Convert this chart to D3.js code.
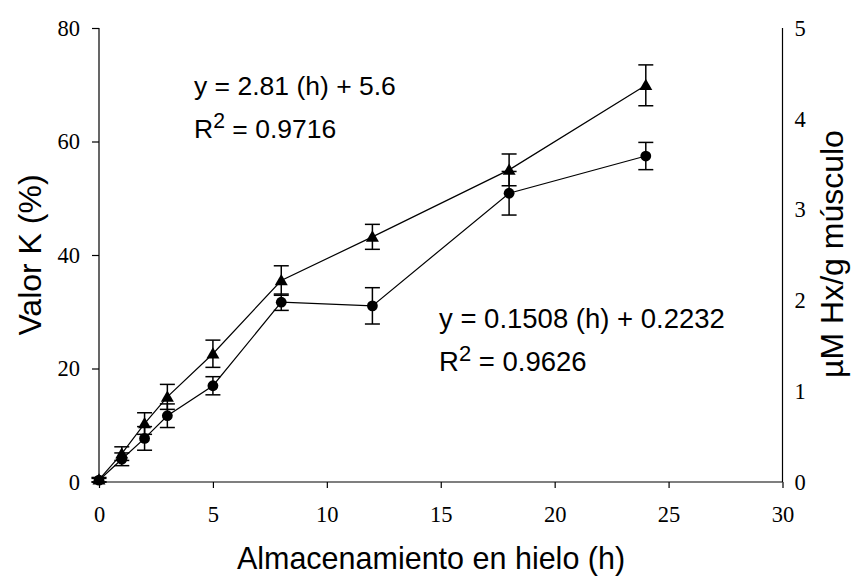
<!DOCTYPE html>
<html><head><meta charset="utf-8">
<script src="https://cdn.jsdelivr.net/npm/d3@7"></script>
<style>body{margin:0;background:#fff}</style>
</head><body>
<svg id="c" width="856" height="581"></svg>
<script>
const hours = [0, 1, 2, 3, 5, 8, 12, 18, 24];
const valorK = [0.4, 5.0, 10.3, 15.0, 22.6, 35.5, 43.2, 55.0, 69.9];
const valorKErr = [0.4, 1.2, 1.9, 2.2, 2.4, 2.6, 2.2, 2.8, 3.6];
const hx = [0.02, 0.25, 0.48, 0.73, 1.06, 1.98, 1.94, 3.18, 3.59];
const hxErr = [0.02, 0.07, 0.13, 0.13, 0.10, 0.09, 0.20, 0.24, 0.15];
const xTicks = [0, 5, 10, 15, 20, 25, 30];
const yLeftTicks = [0, 20, 40, 60, 80];
const yRightTicks = [0, 1, 2, 3, 4, 5];
const eq1 = ["y = 2.81 (h) + 5.6", "0.9716"];
const eq2 = ["y = 0.1508 (h) + 0.2232", "0.9626"];

const svg = d3.select("#c");
const L = 99, R = 782.5, T = 28, B = 482;
const x = d3.scaleLinear().domain([0, 30]).range([L, R]);
const yL = d3.scaleLinear().domain([0, 80]).range([B, T]);
const yR = d3.scaleLinear().domain([0, 5]).range([B, T]);
const serif = "'Liberation Serif','Times New Roman',serif";
const sans = "'Liberation Sans',Arial,sans-serif";

// axes
const ax = svg.append("g").attr("transform", `translate(0,${B})`)
  .call(d3.axisBottom(x).tickValues(xTicks).tickSize(6).tickPadding(18).tickFormat(d3.format("d")));
const ayl = svg.append("g").attr("transform", `translate(${L},0)`)
  .call(d3.axisLeft(yL).tickValues(yLeftTicks).tickSize(7).tickPadding(12).tickFormat(d3.format("d")));
const ayr = svg.append("g").attr("transform", `translate(${R},0)`)
  .call(d3.axisRight(yR).tickValues(yRightTicks).tickSize(0).tickPadding(12).tickFormat(d3.format("d")));
[ax, ayl, ayr].forEach(g => {
  g.select(".domain").attr("stroke", "#000").attr("stroke-width", 1.2);
  g.selectAll(".tick line").attr("stroke", "#000").attr("stroke-width", 1.2);
  g.selectAll("text").attr("font-family", serif).attr("font-size", 22.5).attr("fill", "#000");
});
ax.select(".domain").attr("d", `M${L},0H${R}`);
ayl.select(".domain").attr("d", `M0,${B}V${T}`);
ayr.select(".domain").attr("d", `M0,${B}V${T}`);

// series
function series(vals, errs, yScale, shape) {
  const g = svg.append("g");
  const line = d3.line().x((d, i) => x(hours[i])).y(d => yScale(d));
  g.append("path").attr("d", line(vals)).attr("fill", "none").attr("stroke", "#000").attr("stroke-width", 1.2);
  vals.forEach((v, i) => {
    const cx = x(hours[i]), y1 = yScale(v + errs[i]), y0 = yScale(v - errs[i]);
    g.append("line").attr("x1", cx).attr("x2", cx).attr("y1", y1).attr("y2", y0).attr("stroke", "#000").attr("stroke-width", 1.5);
    [y0, y1].forEach(yy => g.append("line").attr("x1", cx - 7.5).attr("x2", cx + 7.5).attr("y1", yy).attr("y2", yy).attr("stroke", "#000").attr("stroke-width", 1.5));
  });
  vals.forEach((v, i) => {
    const cx = x(hours[i]), cy = yScale(v);
    if (shape === "circle") g.append("circle").attr("cx", cx).attr("cy", cy).attr("r", 5.4).attr("fill", "#000");
    else g.append("path").attr("d", `M${cx},${cy - 6.5}L${cx + 6.5},${cy + 4.8}L${cx - 6.5},${cy + 4.8}Z`).attr("fill", "#000");
  });
}
series(hx, hxErr, yR, "circle");
series(valorK, valorKErr, yL, "triangle");

// titles
svg.append("text").attr("x", 431).attr("y", 569).attr("text-anchor", "middle")
  .attr("font-family", sans).attr("font-size", 30.5).text("Almacenamiento en hielo (h)");
svg.append("text").attr("transform", "translate(41,255) rotate(-90)").attr("text-anchor", "middle")
  .attr("font-family", sans).attr("font-size", 32).text("Valor K (%)");
svg.append("text").attr("transform", "translate(843,254) rotate(-90)").attr("text-anchor", "middle")
  .attr("font-family", sans).attr("font-size", 32).text("µM Hx/g músculo");

// equations
function eq(lines, x0, y0, fs) {
  svg.append("text").attr("x", x0).attr("y", y0).attr("font-family", sans).attr("font-size", fs).text(lines[0]);
  const t = svg.append("text").attr("x", x0).attr("y", y0 + 43).attr("font-family", sans).attr("font-size", fs);
  t.append("tspan").text("R");
  t.append("tspan").attr("dy", -10).attr("font-size", fs * 0.8).text("2");
  t.append("tspan").attr("dy", 10).text(" = " + lines[1]);
}
eq(eq1, 194, 95, 26.5);
eq(eq2, 439, 328, 27.5);
</script>
</body></html>
